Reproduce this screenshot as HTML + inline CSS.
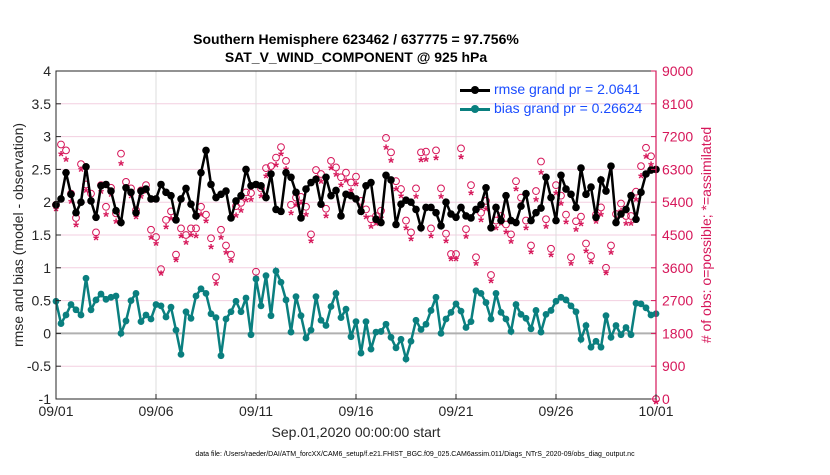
<!DOCTYPE html>
<html><head><meta charset="utf-8"><style>
body{margin:0;background:#fff;width:830px;height:470px;overflow:hidden}
svg{font-family:"Liberation Sans",sans-serif}
</style></head><body>
<svg id="chart" width="830" height="470" xmlns="http://www.w3.org/2000/svg"></svg>
<script>
const rmse=[1.96,2.05,2.45,2.12,1.84,2.0,2.54,2.02,1.77,2.25,2.27,2.17,1.87,1.69,2.22,2.15,1.84,2.17,2.2,2.05,2.05,2.27,2.15,2.1,1.73,2.05,2.21,1.97,1.79,2.45,2.79,2.27,2.07,2.12,2.17,1.76,2.02,2.1,2.5,2.25,2.27,
2.25,2.07,2.43,1.89,1.86,2.45,2.38,2.15,1.76,2.2,2.3,2.35,1.97,2.38,2.1,2.18,1.79,2.12,2.1,2.05,1.86,2.25,2.3,1.74,1.69,2.41,2.34,1.66,1.97,2.03,2.0,1.89,1.61,1.92,1.92,1.84,1.64,2.0,1.82,1.77,
1.92,1.79,1.76,1.89,1.96,2.22,1.61,1.92,1.72,2.1,1.72,1.69,1.94,2.13,1.72,1.84,1.91,2.38,2.07,1.72,2.41,2.2,2.12,1.92,2.52,2.12,2.23,1.77,2.34,2.17,2.55,1.69,1.82,1.89,2.1,1.74,2.15,2.43,2.49,2.5];
const bias=[0.49,0.15,0.28,0.44,0.36,0.28,0.84,0.36,0.51,0.6,0.52,0.55,0.57,0.0,0.19,0.5,0.61,0.18,0.28,0.22,0.44,0.42,0.25,0.4,0.05,-0.32,0.33,0.23,0.57,0.68,0.61,0.3,0.24,-0.34,0.22,0.33,0.49,0.33,0.54,-0.02,0.83,
0.42,0.88,0.27,0.95,0.78,0.51,0.02,0.56,0.27,-0.07,0.05,0.56,0.2,0.12,0.41,0.61,0.24,0.37,-0.05,0.18,-0.3,0.18,-0.24,0.02,0.03,0.14,-0.06,-0.22,-0.09,-0.39,-0.12,0.2,0.06,0.14,0.35,0.55,0.0,0.22,0.32,0.45,
0.34,0.09,0.18,0.65,0.61,0.47,0.22,0.61,0.32,0.22,0.03,0.44,0.29,0.23,0.07,0.35,0.02,0.29,0.35,0.49,0.55,0.51,0.42,0.33,-0.09,0.12,-0.21,-0.12,-0.21,0.27,-0.06,0.12,-0.02,0.09,-0.02,0.46,0.45,0.39,0.28,0.3];
const possible=[5328,6984,6822,5634,4968,6444,5886,5634,4572,5868,5274,5796,5094,6732,5958,5778,5184,5724,5868,4644,4446,3564,4914,5148,3960,4680,4500,4680,4680,5274,5058,4410,3348,4644,4212,3960,5292,5382,5670,5652,3492,5778,6336,6390,6624,6912,6534,5328,5526,5544,5274,4518,6282,6174,5220,6534,6354,6084,6210,5940,6102,5436,5202,4932,5022,5166,7164,6768,5976,5760,4896,4572,5778,6768,6786,4680,6822,5778,4536,3978,3978,6876,4662,5868,3888,5112,5436,3402,4896,5022,4788,4518,5976,5526,4896,4212,5706,6516,4932,4122,5868,5580,5058,3888,4878,5004,4266,3924,5058,5256,3600,4212,5076,5364,5022,5022,5688,6390,6894,6660,0];
const assim=[5300,6800,6650,5500,4850,6380,5800,5550,4500,5780,5150,5700,4950,6550,5850,5650,5080,5640,5780,4520,4350,3520,4800,5030,3900,4560,4380,4580,4560,5150,4960,4250,3250,4520,4100,3880,5120,5260,5540,5560,3420,5650,6200,6280,6500,6800,6400,5180,5400,5460,5150,4420,6140,6050,5100,6420,6240,5960,6080,5800,5980,5320,5080,4820,4900,5050,6980,6620,5840,5650,4780,4470,5640,6640,6660,4560,6700,5640,4420,3920,3920,6720,4540,5740,3800,5000,5300,3320,4780,4900,4660,4400,5840,5400,4780,4120,5560,6300,4820,4040,5740,5440,4940,3800,4740,4880,4140,3840,4950,5140,3540,4100,4960,5240,4900,4900,5560,6200,6740,6520,0];
const xTicks=["09/01","09/06","09/11","09/16","09/21","09/26","10/01"];
const yTicks=[-1,-0.5,0,0.5,1,1.5,2,2.5,3,3.5,4];
const rTicks=[0,900,1800,2700,3600,4500,5400,6300,7200,8100,9000];

const X0=56,X1=656,YT=71,YB=399;
const sx=i=>X0+i*(X1-X0)/120;
const sy=v=>YB-(v+1)*(YB-YT)/5;
const sr=c=>YB-c*(YB-YT)/9000;
const svg=document.getElementById('chart');
const NS="http://www.w3.org/2000/svg";
function mk(t,a,p){const e=document.createElementNS(NS,t);for(const k in a)e.setAttribute(k,a[k]);(p||svg).appendChild(e);return e;}
yTicks.forEach((v,i)=>{if(i>0&&i<yTicks.length-1){
const l=mk('line',{x1:X0,x2:X1,y1:sy(v),y2:sy(v),stroke:'#f3cfe0','stroke-width':1});

}});
xTicks.forEach((t,i)=>{if(i>0&&i<xTicks.length-1){
const l=mk('line',{x1:sx(i*20),x2:sx(i*20),y1:YT,y2:YB,stroke:'#dcdcdc','stroke-width':1});

}});
const z=mk('line',{x1:X0,x2:X1,y1:sy(0),y2:sy(0),stroke:'#b0b0b0','stroke-width':2});


possible.forEach((c,i)=>{
const m=mk('circle',{cx:sx(i),cy:sr(c),r:3.4,fill:'none',stroke:'#d6175a','stroke-width':1});

});
assim.forEach((c,i)=>{
const m=mk('text',{x:sx(i),y:sr(c)+10,'text-anchor':'middle','font-size':15,'font-weight':'bold',fill:'#d6175a'});
m.textContent='*';

});
function series(arr,col,name,ms){
const p=mk('polyline',{points:arr.map((v,i)=>sx(i)+','+sy(v)).join(' '),fill:'none',stroke:col,'stroke-width':2.5});


arr.forEach((v,i)=>{const c=mk('circle',{cx:sx(i),cy:sy(v),r:ms,fill:col});

});}
series(rmse,'#000','rmse',3.8);
series(bias,'#0a7f7f','bias',3.4);
const ax=mk('rect',{x:X0,y:YT,width:X1-X0,height:YB-YT,fill:'none',stroke:'#262626','stroke-width':1});


const ra=mk('line',{x1:X1,x2:X1,y1:YT,y2:YB,stroke:'#d6175a','stroke-width':1.2});


yTicks.forEach(v=>{
mk('line',{x1:X0,x2:X0+5,y1:sy(v),y2:sy(v),stroke:'#262626'});
const t=mk('text',{x:X0-5,y:sy(v)+5,'text-anchor':'end','font-size':14,fill:'#262626'});
t.textContent=String(v);

});
rTicks.forEach(c=>{
mk('line',{x1:X1-5,x2:X1,y1:sr(c),y2:sr(c),stroke:'#d6175a'});
const t=mk('text',{x:X1+6,y:sr(c)+5,'font-size':14,fill:'#d6175a'});
t.textContent=String(c);

});
xTicks.forEach((s,i)=>{
mk('line',{x1:sx(i*20),x2:sx(i*20),y1:YB,y2:YB-5,stroke:'#262626'});
const t=mk('text',{x:sx(i*20),y:YB+17,'text-anchor':'middle','font-size':14,fill:'#262626'});
t.textContent=s;

});
</script>
<div style="position:absolute;left:0;top:0;width:830px;height:470px;pointer-events:none;font-family:'Liberation Sans',sans-serif">
<div style="position:absolute;left:56px;width:600px;top:30px;text-align:center;font-weight:bold;font-size:14px;line-height:18px;color:#000">Southern Hemisphere 623462 / 637775 = 97.756%<br>SAT_V_WIND_COMPONENT @ 925 hPa</div>
<div style="position:absolute;left:56px;width:600px;top:424px;text-align:center;font-size:14px;color:#262626">Sep.01,2020 00:00:00 start</div>
<div style="position:absolute;left:18px;top:235px;transform:translate(-50%,-50%) rotate(-90deg);white-space:nowrap;font-size:14px;color:#262626">rmse and bias (model - observation)</div>
<div style="position:absolute;left:706px;top:235px;transform:translate(-50%,-50%) rotate(-90deg);white-space:nowrap;font-size:14px;color:#d6175a"># of obs: o=possible; *=assimilated</div>
<div style="position:absolute;left:460px;top:80px;font-size:14px;color:#1a4cff;line-height:19px">
<div><span style="display:inline-block;width:30px;height:3px;background:#000;vertical-align:middle;margin-right:4px;position:relative"><span style="position:absolute;left:11px;top:-3px;width:8px;height:8px;border-radius:50%;background:#000"></span></span>rmse grand pr = 2.0641</div>
<div><span style="display:inline-block;width:30px;height:3px;background:#0a7f7f;vertical-align:middle;margin-right:4px;position:relative"><span style="position:absolute;left:11px;top:-3px;width:8px;height:8px;border-radius:50%;background:#0a7f7f"></span></span>bias grand pr = 0.26624</div>
</div>
<div style="position:absolute;left:0;width:830px;top:451px;text-align:center;font-size:7px;color:#000">data file: /Users/raeder/DAI/ATM_forcXX/CAM6_setup/f.e21.FHIST_BGC.f09_025.CAM6assim.011/Diags_NTrS_2020-09/obs_diag_output.nc</div>
</div>
</body></html>
